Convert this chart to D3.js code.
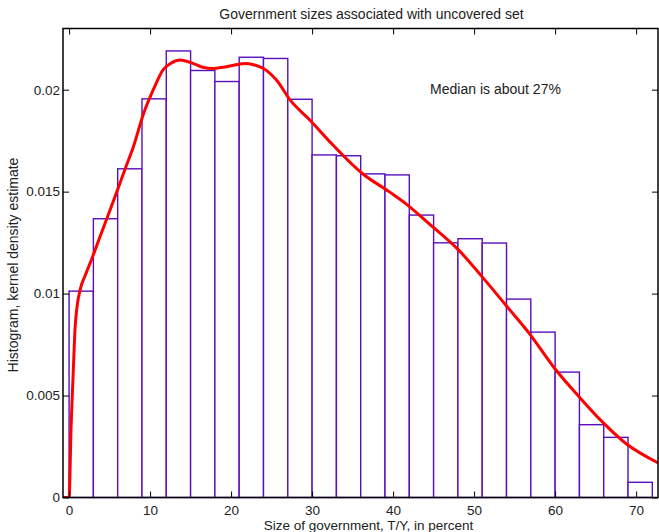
<!DOCTYPE html>
<html><head><meta charset="utf-8">
<script src="https://cdn.jsdelivr.net/npm/d3@7"></script>
<style>
body{margin:0;background:#fff;}
text{font-family:"Liberation Sans",Arial,Helvetica,sans-serif;fill:#222;}
</style></head>
<body>
<svg id="c" width="659" height="532"></svg>
<script>
const binStarts = [0,3,6,9,12,15,18,21,24,27,30,33,36,39,42,45,48,51,54,57,60,63,66,69];
const binValues = [0.01012,0.01367,0.01612,0.01955,0.0219,0.02094,0.0204,0.02159,0.02153,0.01953,0.0168,0.01676,0.01587,0.01582,0.01385,0.01249,0.01269,0.01248,0.00973,0.00811,0.00615,0.00357,0.00295,0.000745];
const binWidth = 3;
const kdeX = [-0.75,0,0.25,0.5,0.74,1.0,1.44,2.0,2.8,3.83,5.06,5.9,7.0,7.94,9.17,10.4,11.64,12.6,13.7,15.35,16.5,17.8,19.0,20.3,21.9,23,24,25.6,27.3,29.75,32.2,36.2,39.5,41.6,44.4,48.1,51,53.9,56.8,60.1,62.96,65.8,68.7,72.8];
const kdeY = [0,0,0.0035,0.0060,0.0083,0.0094,0.0103,0.0109,0.0117,0.0128,0.0141,0.0150,0.0162,0.0172,0.0188,0.0200,0.0210,0.0213,0.02145,0.02128,0.0211,0.02104,0.0211,0.0212,0.02128,0.0212,0.02104,0.02047,0.01949,0.0185,0.01744,0.01589,0.0150,0.0144,0.01344,0.01213,0.01082,0.00944,0.00805,0.00625,0.00494,0.00372,0.00266,0.00168];
const xTicks = [0,10,20,30,40,50,60,70];
const yTicks = [0,0.005,0.01,0.015,0.02];
const yTickLabels = ["0","0.005","0.01","0.015","0.02"];
const title = "Government sizes associated with uncovered set";
const xLabel = "Size of government, T/Y, in percent";
const yLabel = "Histogram, kernel density estimate";
const note = "Median is about 27%";

const L=63,R=658,T=28.5,B=497.5;
const FS="14px", TFS="13.5px";
const svg=d3.select("#c");
const x=d3.scaleLinear().domain([-0.75,72.7]).range([L,R]);
const y=d3.scaleLinear().domain([0,0.023]).range([B,T]);

svg.append("defs").append("clipPath").attr("id","clip").append("rect")
  .attr("x",L).attr("y",T).attr("width",R-L).attr("height",B-T);

const bars=svg.append("g");
bars.selectAll("rect").data(binStarts).join("rect")
  .attr("x",(d)=>x(d)).attr("width",(d)=>x(d+binWidth)-x(d))
  .attr("y",(d,i)=>y(binValues[i])).attr("height",(d,i)=>y(0)-y(binValues[i]))
  .attr("fill","#fff").attr("stroke","#5a0fbb").attr("stroke-width",1.4);

const line=d3.line().x((d,i)=>x(kdeX[i])).y(d=>y(d)).curve(d3.curveMonotoneX);
svg.append("path").attr("d",line(kdeY)).attr("clip-path","url(#clip)")
  .attr("fill","none").attr("stroke","#ff0000").attr("stroke-width",3).attr("stroke-linejoin","round");

// axes
const gB=svg.append("g").attr("transform",`translate(0,${B})`)
  .call(d3.axisBottom(x).tickValues(xTicks).tickSizeInner(-6).tickSizeOuter(0).tickPadding(8));
const gT=svg.append("g").attr("transform",`translate(0,${T})`)
  .call(d3.axisTop(x).tickValues(xTicks).tickSizeInner(-6).tickSizeOuter(0).tickFormat(""));
const gL=svg.append("g").attr("transform",`translate(${L},0)`)
  .call(d3.axisLeft(y).tickValues(yTicks).tickSizeInner(-6).tickSizeOuter(0).tickPadding(3).tickFormat((d,i)=>yTickLabels[i]));
const gR=svg.append("g").attr("transform",`translate(${R},0)`)
  .call(d3.axisRight(y).tickValues(yTicks).tickSizeInner(-6).tickSizeOuter(0).tickFormat(""));
[gB,gT,gL,gR].forEach(g=>{
  g.select(".domain").remove();
  g.selectAll("line").attr("stroke","#000").attr("stroke-width",1);
  g.selectAll("text").style("font-size",TFS).attr("fill","#222").style("font-family","Liberation Sans, Arial, sans-serif");
});
svg.append("rect").attr("x",L).attr("y",T).attr("width",R-L).attr("height",B-T)
  .attr("fill","none").attr("stroke","#000").attr("stroke-width",1.5);

svg.append("text").attr("x",371.5).attr("y",19).attr("text-anchor","middle").style("font-size",FS).text(title);
svg.append("text").attr("x",368.5).attr("y",529.5).attr("text-anchor","middle").style("font-size",TFS).text(xLabel);
svg.append("text").attr("transform","translate(18,265) rotate(-90)").attr("text-anchor","middle").style("font-size",FS).text(yLabel);
svg.append("text").attr("x",495.5).attr("y",94).attr("text-anchor","middle").style("font-size",FS).text(note);
</script>
</body></html>
